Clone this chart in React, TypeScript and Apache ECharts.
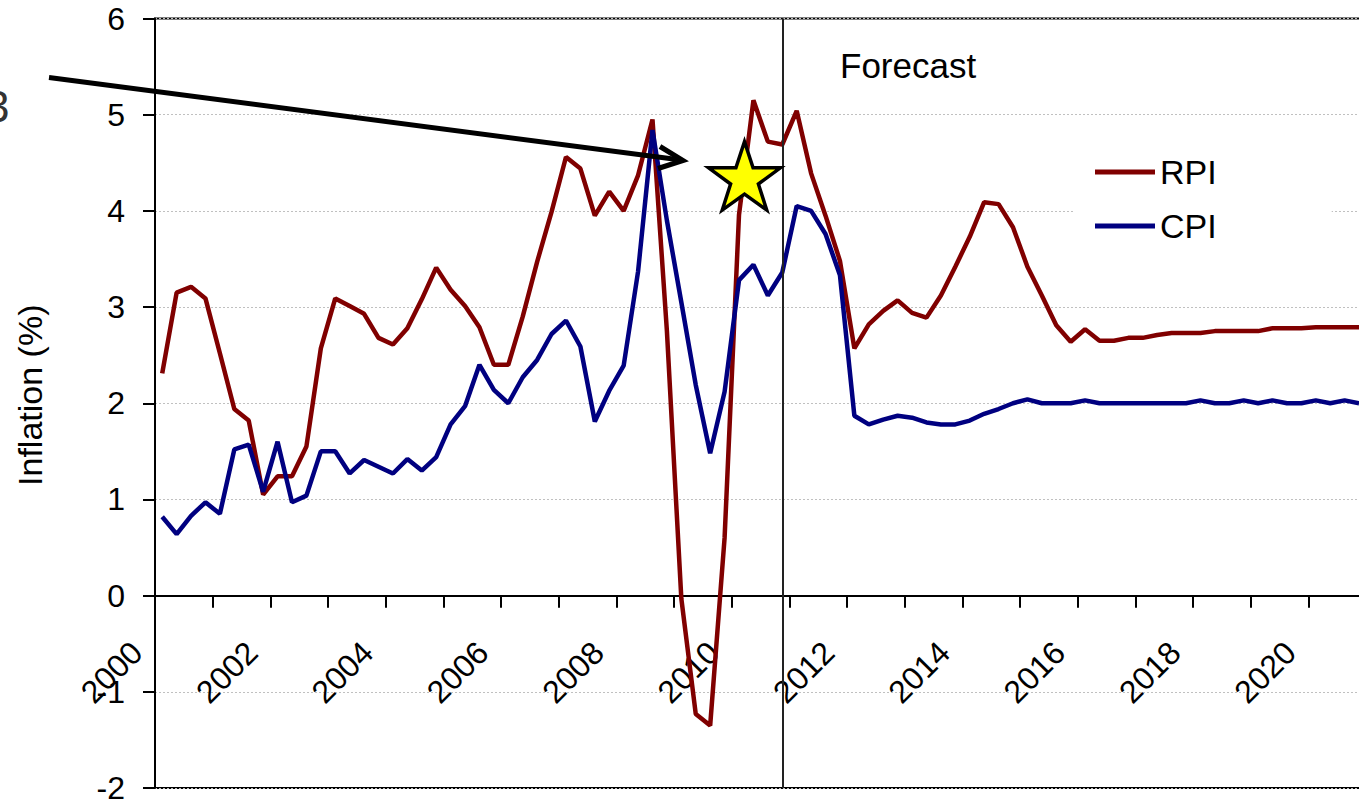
import React, { useEffect, useRef } from "react";
import * as echarts from "echarts";

const years: number[] = [];
for (let y = 2000; y <= 2020; y++) years.push(y);
const quarters = ["Q1", "Q2", "Q3", "Q4"];
const categories: string[] = [];
years.forEach((y) => quarters.forEach((q) => categories.push(`${y}${q}`)));

const rpi = [
  2.31, 3.15, 3.21, 3.09, 2.52, 1.94, 1.82, 1.05, 1.24, 1.24, 1.55, 2.57,
  3.09, 3.01, 2.93, 2.68, 2.61, 2.78, 3.08, 3.41, 3.18, 3.01, 2.79, 2.4,
  2.4, 2.9, 3.47, 3.99, 4.56, 4.44, 3.95, 4.2, 4.0, 4.37, 4.95, 2.75,
  -0.03, -1.23, -1.35, 0.6, 3.96, 5.15, 4.72, 4.69, 5.04, 4.39, 3.95, 3.48,
  2.57, 2.82, 2.96, 3.07, 2.94, 2.89, 3.12, 3.42, 3.73, 4.09, 4.07, 3.83,
  3.42, 3.12, 2.81, 2.64, 2.77, 2.65, 2.65, 2.68, 2.68, 2.71, 2.73, 2.73,
  2.73, 2.75, 2.75, 2.75, 2.75, 2.78, 2.78, 2.78, 2.79, 2.79, 2.79, 2.79,
];

const cpi = [
  0.82, 0.64, 0.83, 0.97, 0.85, 1.52, 1.57, 1.08, 1.6, 0.97, 1.04, 1.5,
  1.5, 1.27, 1.41, 1.34, 1.27, 1.42, 1.3, 1.44, 1.78, 1.97, 2.4, 2.14,
  2.0, 2.27, 2.45, 2.72, 2.86, 2.59, 1.81, 2.13, 2.39, 3.37, 4.84, 3.9,
  3.05, 2.19, 1.48, 2.12, 3.28, 3.44, 3.12, 3.36, 4.05, 4.0, 3.76, 3.33,
  1.87, 1.78, 1.83, 1.87, 1.85, 1.8, 1.78, 1.78, 1.82, 1.89, 1.94, 2.0,
  2.04, 2.0, 2.0, 2.0, 2.03, 2.0, 2.0, 2.0, 2.0, 2.0, 2.0, 2.0,
  2.03, 2.0, 2.0, 2.03, 2.0, 2.03, 2.0, 2.0, 2.03, 2.0, 2.03, 2.0,
];

const seriesNames = ["RPI", "CPI"];
const forecastStart = "2010Q4";
const yTicks = { min: -2, max: 6, interval: 1 };

const FONT = '"Liberation Sans", Arial, sans-serif';

function starPoints(cx: number, cy: number, R: number, r: number): number[][] {
  const pts: number[][] = [];
  for (let k = 0; k < 10; k++) {
    const ang = -Math.PI / 2 + (k * Math.PI) / 5;
    const rad = k % 2 === 0 ? R : r;
    pts.push([cx + rad * Math.cos(ang), cy + rad * Math.sin(ang)]);
  }
  return pts;
}

export default function App() {
  const ref = useRef<HTMLDivElement>(null);
  useEffect(() => {
    if (!ref.current) return;
    const chart = echarts.init(ref.current, undefined, { renderer: "svg" });
    const catW = 14.42;
    const gridTop = 18.5;
    const gridH = 769.5;
    const zeroOffset = -(gridH * (0 - yTicks.min)) / (yTicks.max - yTicks.min);
    chart.setOption({
      animation: false,
      backgroundColor: "#fff",
      textStyle: { fontFamily: FONT },
      grid: {
        left: 155,
        top: gridTop,
        height: gridH,
        width: catW * categories.length,
        containLabel: false,
        outerBoundsMode: "none",
        show: true,
        borderColor: "#000",
        borderWidth: 2,
        backgroundColor: "transparent",
      },
      legend: {
        data: seriesNames,
        orient: "vertical",
        left: 1075,
        top: 135,
        padding: [17, 115, 17, 20],
        backgroundColor: "#fff",
        icon: "rect",
        itemWidth: 60,
        itemHeight: 5,
        itemGap: 14,
        textStyle: { fontSize: 34, lineHeight: 40, color: "#000", fontFamily: FONT },
      },
      xAxis: {
        type: "category",
        data: categories,
        boundaryGap: true,
        position: "bottom",
        offset: zeroOffset,
        axisLine: { onZero: false, lineStyle: { color: "#000", width: 2 } },
        axisTick: {
          show: true,
          interval: 3,
          length: 12,
          alignWithLabel: false,
          lineStyle: { color: "#000", width: 2 },
        },
        axisLabel: {
          interval: 7,
          rotate: 45,
          fontSize: 32,
          color: "#000",
          margin: 26,
          padding: [0, 36, 0, 0],
          fontFamily: FONT,
          formatter: (v: string) => v.slice(0, 4),
        },
        splitLine: { show: false },
      },
      yAxis: {
        type: "value",
        min: yTicks.min,
        max: yTicks.max,
        interval: yTicks.interval,
        name: "Inflation (%)",
        nameLocation: "middle",
        nameGap: 108,
        nameTextStyle: {
          fontSize: 34,
          color: "#000",
          fontFamily: FONT,
          padding: [0, 0, 0, 16],
        },
        axisLine: { show: true, onZero: false, lineStyle: { color: "#000", width: 2 } },
        axisTick: { show: true, length: 12, lineStyle: { color: "#000", width: 2 } },
        axisLabel: { fontSize: 32, color: "#000", margin: 30, fontFamily: FONT },
        splitLine: {
          show: true,
          lineStyle: { color: "#c0c0c0", width: 1, type: [2, 2] },
        },
      },
      series: [
        {
          name: seriesNames[0],
          type: "line",
          data: rpi,
          symbol: "none",
          color: "#800000",
          lineStyle: { color: "#800000", width: 4.5 },
        },
        {
          name: seriesNames[1],
          type: "line",
          data: cpi,
          symbol: "none",
          color: "#000080",
          lineStyle: { color: "#000080", width: 4.5 },
          markLine: {
            silent: true,
            symbol: "none",
            label: { show: false },
            lineStyle: { color: "#222", width: 2, type: "solid" },
            data: [{ xAxis: forecastStart }],
          },
        },
      ],
      graphic: [
        {
          type: "text",
          left: 840,
          top: 48,
          style: { text: "Forecast", fontSize: 35, fill: "#000", fontFamily: FONT },
          z: 20,
        },
        {
          type: "text",
          x: -15,
          y: 84,
          style: { text: "3", fontSize: 44, fill: "#333", fontFamily: FONT },
          z: 20,
        },
        {
          type: "line",
          shape: { x1: 49, y1: 77.5, x2: 681, y2: 160 },
          style: { stroke: "#000", lineWidth: 5 },
          z: 20,
        },
        {
          type: "polyline",
          shape: { points: [[660, 146.5], [683, 160.5], [658, 168.5]] },
          style: { stroke: "#000", lineWidth: 5, fill: null },
          z: 20,
        },
        {
          type: "polygon",
          shape: { points: starPoints(744.5, 179.5, 37.8, 14.6) },
          style: { fill: "#ffff00", stroke: "#000", lineWidth: 3.5 },
          z: 21,
        },
      ],
    });
    return () => chart.dispose();
  }, []);
  return (
    <div
      ref={ref}
      style={{ position: "fixed", left: 0, top: 0, width: 1359, height: 802, background: "#fff" }}
    />
  );
}
